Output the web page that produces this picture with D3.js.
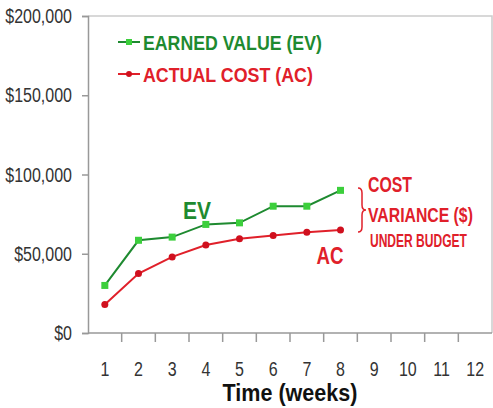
<!DOCTYPE html>
<html><head><meta charset="utf-8">
<script src="https://cdn.jsdelivr.net/npm/d3@7"></script>
<style>body{margin:0;background:#fff}svg{display:block}</style>
</head><body>
<svg id="c" width="493" height="408"></svg>
<script>
const weeks = [1,2,3,4,5,6,7,8,9,10,11,12];
const evWeeks = [1,2,3,4,5,6,7,8];
const evValues = [30000,58500,60500,68500,69500,80000,80000,90000];
const acValues = [18000,37500,48000,55500,59500,61500,63500,65000];
const yTicks = [0,50000,100000,150000,200000];
const legendLabels = ["EARNED VALUE (EV)","ACTUAL COST (AC)"];
const varianceLines = ["COST","VARIANCE ($)","UNDER BUDGET"];

const svg = d3.select("#c");
const L=88,R=492,T=16,B=333;
const FONT = "'Liberation Sans',Arial,sans-serif";
const x = d3.scaleBand().domain(weeks).range([L,R]).padding(0);
const y = d3.scaleLinear().domain([0,200000]).range([B,T]);
const gray="#999";

// condensed text via horizontal scale transform; either ratio k or target width w
function label(parent, px, py, txt, o){
  const g = parent.append("g");
  const t = g.append("text").attr("x",0).attr("y",0)
    .attr("font-family",FONT).attr("font-size",o.size).attr("fill",o.fill)
    .attr("font-weight",o.bold?"bold":"normal").attr("text-anchor",o.anchor||"start").text(txt);
  const nat = t.node().getComputedTextLength();
  const k = o.w ? o.w/nat : (o.k||1);
  g.attr("transform",`translate(${px},${py}) scale(${k.toFixed(4)},1)`);
  return t;
}

// plot frame (top/right)
svg.append("path").attr("d",`M${L},${T}H${R}V${B}`).attr("fill","none").attr("stroke","#ccc").attr("stroke-width",1.5);

// y axis
const ya = svg.append("g").attr("transform",`translate(${L},0)`)
  .call(d3.axisLeft(y).tickValues(yTicks).tickSize(6).tickFormat(""));
ya.select(".domain").attr("stroke",gray).attr("stroke-width",1.5);
ya.selectAll(".tick line").attr("stroke",gray).attr("stroke-width",1.5);
yTicks.forEach(v=>{
  label(svg, L-16, y(v)+7, "$"+d3.format(",")(v), {size:20, fill:"#333", anchor:"end", k:0.8});
});

// x axis: ticks at band boundaries
const xa = svg.append("g").attr("transform",`translate(0,${B})`);
xa.append("line").attr("x1",L).attr("x2",R).attr("stroke",gray).attr("stroke-width",1.5);
weeks.forEach(w=>{
  const bx = x(w)+x.bandwidth();
  if (w<12) xa.append("line").attr("x1",bx).attr("x2",bx).attr("y1",0).attr("y2",9).attr("stroke",gray).attr("stroke-width",1.5);
  label(svg, x(w)+x.bandwidth()/2, B+43, w, {size:20, fill:"#333", anchor:"middle", k:0.8});
});
label(svg, 290, 401, "Time (weeks)", {size:23, fill:"#111", bold:true, anchor:"middle", w:135});

const cx = w=>x(w)+x.bandwidth()/2;
const line = d3.line().x(d=>cx(d[0])).y(d=>y(d[1]));
const evData = evWeeks.map((w,i)=>[w,evValues[i]]);
const acData = evWeeks.map((w,i)=>[w,acValues[i]]);

const green="#1e8a30", greenM="#3ccf3c", red="#e0202a", redM="#d0101e";
svg.append("path").datum(acData).attr("d",line).attr("fill","none").attr("stroke",red).attr("stroke-width",2);
svg.append("path").datum(evData).attr("d",line).attr("fill","none").attr("stroke",green).attr("stroke-width",2);
svg.selectAll(".acp").data(acData).join("circle").attr("cx",d=>cx(d[0])).attr("cy",d=>y(d[1])).attr("r",3.5).attr("fill",redM);
svg.selectAll(".evp").data(evData).join("rect").attr("x",d=>cx(d[0])-3.5).attr("y",d=>y(d[1])-3.5).attr("width",7).attr("height",7).attr("fill",greenM);

// legend
const lg = [[green,greenM,"sq",179],[red,redM,"ci",170]];
legendLabels.forEach((t,i)=>{
  const ly = 42+i*32;
  svg.append("line").attr("x1",118).attr("x2",140).attr("y1",ly).attr("y2",ly).attr("stroke",lg[i][0]).attr("stroke-width",2);
  if (lg[i][2]==="sq") svg.append("rect").attr("x",126).attr("y",ly-3).attr("width",6).attr("height",6).attr("fill",lg[i][1]);
  else svg.append("circle").attr("cx",129).attr("cy",ly).attr("r",3).attr("fill",lg[i][1]);
  label(svg, 143, ly+8, t, {size:21, fill:i===0?green:red, bold:true, w:lg[i][3]});
});

// annotations
label(svg, 197, 219, "EV", {size:24, fill:green, bold:true, anchor:"middle", w:28});
label(svg, 330, 264, "AC", {size:24, fill:red, bold:true, anchor:"middle", w:27});
// brace
svg.append("path").attr("d","M358,188 Q362,188 362,193 L362,205 Q362,210 366,210 Q362,210 362,215 L362,227 Q362,232 358,232")
  .attr("fill","none").attr("stroke",red).attr("stroke-width",1.5);
const vs=[[368,192,22,44],[368,222,21,105],[370,247,19,97]];
varianceLines.forEach((t,i)=>{
  label(svg, vs[i][0], vs[i][1], t, {size:vs[i][2], fill:red, bold:true, w:vs[i][3]});
});
</script>
</body></html>
